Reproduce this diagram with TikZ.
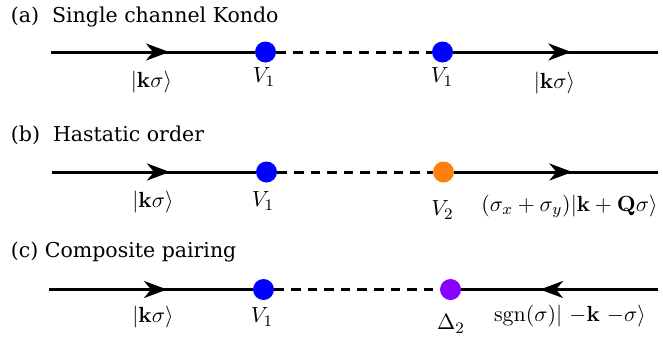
\documentclass[tikz,border=0pt]{standalone}
\usepackage[no-math]{fontspec}
\newfontfamily\ttlfont{DejaVu Serif}
\usetikzlibrary{arrows.meta,decorations.markings}
\definecolor{dotblue}{RGB}{0,0,255}
\definecolor{dotorange}{RGB}{255,127,14}
\definecolor{dotpurple}{RGB}{136,0,255}
\begin{document}
\begin{tikzpicture}[x=0.5pt,y=-0.5pt,
  prop/.style={line width=1.5pt, postaction={decorate},
    decoration={markings, mark=at position 59pt with {\arrow{Stealth[length=11.5pt,width=8.5pt,inset=3.5pt]}}}},
  link/.style={line width=1.5pt, dash pattern=on 4.8pt off 3.5pt},
  vertex/.style={circle, fill=#1, minimum size=10.5pt, inner sep=0pt},
  lab/.style={inner sep=0pt, font=\fontsize{11}{13}\selectfont},
  ttl/.style={inner sep=0pt, anchor=base west, font=\ttlfont\fontsize{10.25}{12}\selectfont}]
\useasboundingbox (0,0) rectangle (663,338);

% titles
\node[ttl] (ta) at (10.5,22.5) {(a)\ \ Single channel Kondo};
\node[ttl] (tb) at (10.5,141.5) {(b)\ \ Hastatic order};
\node[ttl] (tc) at (10.5,257.5) {(c) Composite pairing};

% row (a)
\coordinate (a0) at (51,52);
\coordinate (a3) at (658,52);
\node[vertex=dotblue] (a1) at (265.5,52) {};
\node[vertex=dotblue] (a2) at (442.5,52) {};
\draw[prop] (a0) -- (a1);
\draw[link] (a1) -- (a2);
\draw[prop] (a2) -- (a3);
\node[lab] (la1) at (151.5,82) {$|\mathbf{k}\sigma\rangle$};
\node[lab] (lv1) at (264,77) {$V_1$};
\node[lab] (lv2) at (442,77) {$V_1$};
\node[lab] (la2) at (554.5,83) {$|\mathbf{k}\sigma\rangle$};

% row (b)
\coordinate (b0) at (52,172);
\coordinate (b3) at (658,172);
\node[vertex=dotblue] (b1) at (266.5,172) {};
\node[vertex=dotorange] (b2) at (443.5,172) {};
\draw[prop] (b0) -- (b1);
\draw[link] (b1) -- (b2);
\draw[prop] (b2) -- (b3);
\node[lab] (lb1) at (153,202) {$|\mathbf{k}\sigma\rangle$};
\node[lab] (lbv1) at (263,201) {$V_1$};
\node[lab] (lbv2) at (442.5,210) {$V_2$};
\node[lab] (lb2) at (569.5,206) {$(\sigma_x+\sigma_y)|\mathbf{k}+\mathbf{Q}\sigma\rangle$};

% row (c)
\coordinate (c0) at (49,289.5);
\coordinate (c3) at (658,289.5);
\node[vertex=dotblue] (c1) at (263.5,289.5) {};
\node[vertex=dotpurple] (c2) at (450.5,289.5) {};
\draw[prop] (c0) -- (c1);
\draw[link] (c1) -- (c2);
\draw[prop] (c3) -- (c2);
\node[lab] (lc1) at (153,317) {$|\mathbf{k}\sigma\rangle$};
\node[lab] (lcv1) at (262,317) {$V_1$};
\node[lab] (lcd) at (451,324) {$\Delta_2$};
\node[lab] (lc2) at (570,316) {$\mathrm{sgn}(\sigma)|\mskip6mu{-\mathbf{k}}\mskip6mu{-\sigma}\rangle$};
\end{tikzpicture}
\end{document}
